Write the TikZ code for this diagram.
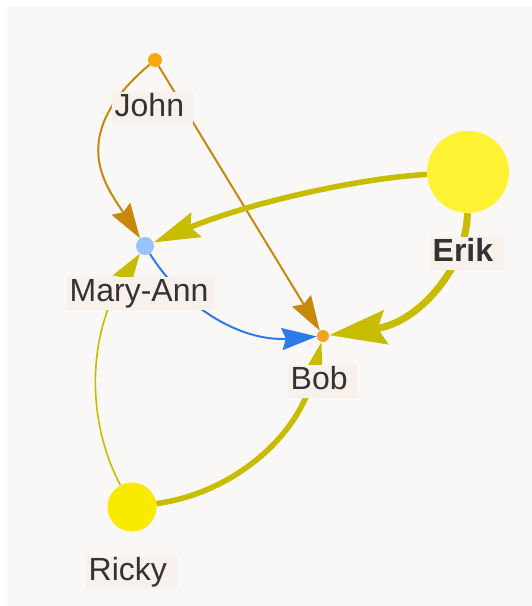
\documentclass[tikz,border=0pt]{standalone}
\usepackage{fontspec}
\setmainfont{Liberation Sans}
\usetikzlibrary{arrows.meta}
\definecolor{bgc}{HTML}{FAF8F6}
\definecolor{labfill}{HTML}{F7F0EB}
\definecolor{txtc}{HTML}{333333}
\definecolor{johnc}{HTML}{F9A80E}
\definecolor{bobc}{HTML}{F9A11B}
\definecolor{mac}{HTML}{97C2FC}
\definecolor{erikc}{HTML}{FFF233}
\definecolor{rickyc}{HTML}{F8EB00}
\definecolor{johnedge}{HTML}{C8880C}
\definecolor{oliveedge}{HTML}{C8BC00}
\definecolor{blueedge}{HTML}{2B7CE9}
\newcommand\lblfont{\fontsize{32}{32}\selectfont}
\pgfdeclarelayer{edgelayer}
\pgfdeclarelayer{bglayer}
\pgfdeclarelayer{lbllayer}
\pgfsetlayers{bglayer,edgelayer,main,lbllayer}
\tikzset{
  vnode/.style={circle, inner sep=0pt, draw=none},
  lab/.style={fill=labfill, text=txtc, font=\lblfont, inner xsep=2.5pt, inner ysep=1.5pt,
    text height=23pt, text depth=7pt, anchor=base west},
  thinedge/.style={line width=2pt, -{Stealth[length=35pt,width=22pt,inset=4pt]}},
  hairedge/.style={line width=1.6pt, -{Stealth[length=33pt,width=21pt,inset=4pt]}},
  midedge/.style={line width=5.5pt, -{Stealth[length=46pt,width=26pt,inset=6pt]}},
  fatedge/.style={line width=7pt, -{Stealth[length=57pt,width=34pt,inset=8pt]}},
}
\begin{document}
\begin{tikzpicture}[x=1pt,y=-1pt]
\useasboundingbox (0,0) rectangle (532,606);
\begin{pgfonlayer}{bglayer}
  \fill[white] (0,0) rectangle (532,606);
  \fill[bgc] (7,7) rectangle (532,606);
\end{pgfonlayer}
% nodes
\node[vnode, fill=johnc, minimum size=14pt] (john) at (155,60) {};
\node[vnode, fill=mac, minimum size=18pt] (ma) at (145,246) {};
\node[vnode, fill=bobc, minimum size=12pt] (bob) at (323,336) {};
\node[vnode, fill=erikc, minimum size=82pt] (erik) at (468,172) {};
\node[vnode, fill=rickyc, minimum size=49pt] (ricky) at (132,507) {};
% edges
\begin{pgfonlayer}{edgelayer}
  \draw[thinedge, johnedge] (john) .. controls +(-90,76) and +(-38.5,-59.5) .. (ma);
  \draw[thinedge, johnedge] (john) -- (bob);
  \draw[midedge, oliveedge] (erik) .. controls +(-111.8,6.5) and +(103.5,-42.9) .. (ma);
  \draw[fatedge, oliveedge] (erik) .. controls +(-1.4,96.1) and +(95.3,-13.2) .. (bob);
  \draw[thinedge, blueedge] (ma) .. controls +(41.3,65.7) and +(-77.4,5.7) .. (bob);
  \draw[midedge, oliveedge] (ricky) .. controls +(102.1,-14.1) and +(-25.3,99.9) .. (bob);
  \draw[hairedge, oliveedge] (ricky) .. controls +(-47.6,-89.6) and +(-56.3,84.4) .. (ma);
\end{pgfonlayer}
% labels
\begin{pgfonlayer}{lbllayer}
  \node[lab] (johnlab) at (112,116.7) {John\kern6pt};
  \node[lab] (malab) at (67,301) {Mary-Ann\kern4pt};
  \node[lab] (boblab) at (288,389) {Bob\kern7pt};
  \node[lab] (eriklab) at (430,261) {\textbf{Erik}\kern8pt};
  \node[lab] (rickylab) at (86,580) {Ricky\kern8pt};
\end{pgfonlayer}
\end{tikzpicture}
\end{document}
